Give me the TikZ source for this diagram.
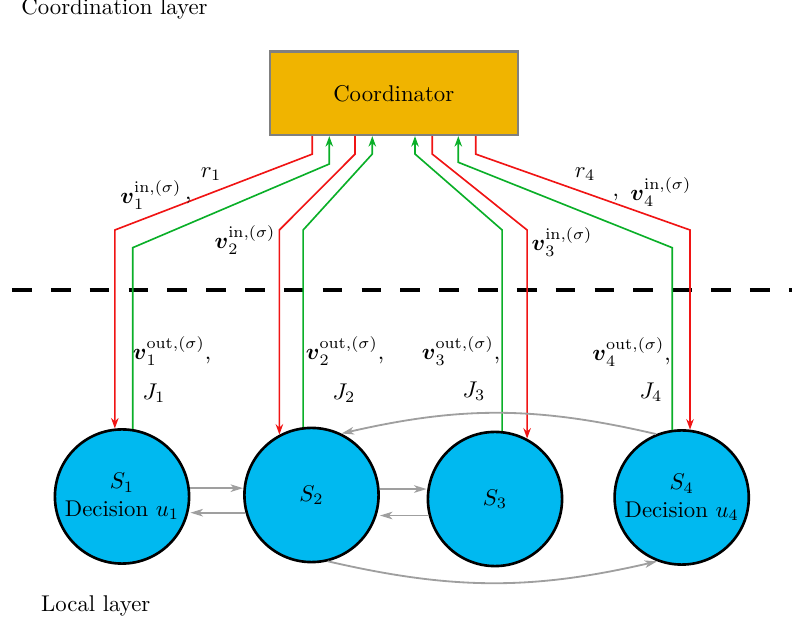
\documentclass[tikz,border=0pt]{standalone}
\usepackage{amssymb,amsmath}
\usepackage{xcolor}
\usepackage{tikz}
\usetikzlibrary{arrows}
\usetikzlibrary{positioning, arrows.meta, calc}

\definecolor{coordorange}{RGB}{240,180,0}
\definecolor{subcyan}{RGB}{0,185,240}
\definecolor{reqred}{RGB}{240,20,20}
\definecolor{repgreen}{RGB}{10,175,40}

\begin{document}
\begin{tikzpicture}[>={Stealth[length=4.6pt, width=3.3pt]}, x=0.439pt, y=-0.439pt,
  subsys/.style={circle, draw, line width=1.15pt, fill=subcyan, minimum size=58.9pt, inner sep=0pt, align=center},
  reqline/.style={reqred, line width=0.72pt, ->},
  repline/.style={repgreen, line width=0.72pt, ->},
  link/.style={gray!75, line width=0.8pt, -{Stealth[length=5.5pt, width=3.3pt, inset=1.5pt]}}]
  \useasboundingbox (0,0) rectangle (792,623);
  \node[draw=gray, line width=0.9pt, fill=coordorange, minimum width=108.7pt, minimum height=36.7pt] (C) at (393.8,93.3) {Coordinator};
  \node[subsys] (S1) at (122,496.5)   {$S_1$\\Decision $u_1$};
  \node[subsys] (S2) at (311.5,495)   {$S_2$};
  \node[subsys] (S3) at (495,499)     {$S_3$};
  \node[subsys] (S4) at (681.7,497.5) {$S_4$\\Decision $u_4$};
  \node[anchor=base west, inner sep=0pt] (toplayer) at (21,15)      {Coordination layer};
  \node[anchor=base west, inner sep=0pt] (botlayer) at (40.7,611.5) {Local layer};
  % layer separator
  \coordinate (sepL) at (12,290);
  \coordinate (sepR) at (792,290);
  \draw[line width=1.55pt, dash pattern=on 8.65pt off 8.4pt] (sepL) -- (sepR);
  % coordinator -> subsystems
  \draw[reqline] (C.south -| 312.3,0) -- ++(0,18) -- (S1.96 |- 0,230) -- (S1.96);
  \draw[reqline] (C.south -| 355,0)   -- ++(0,18) -- (S2.118 |- 0,230) -- (S2.118);
  \draw[reqline] (C.south -| 432.3,0) -- ++(0,18) -- (S3.62 |- 0,230) -- (S3.62);
  \draw[reqline] (C.south -| 475.7,0) -- ++(0,18) -- (S4.83 |- 0,230) -- (S4.83);
  % subsystems -> coordinator
  \draw[repline] (S1.81) -- (S1.81 |- 0,247.7) -- (329.3,164)   -- (C.south -| 329.3,0);
  \draw[repline] (S2.97) -- (S2.97 |- 0,230)   -- (372.3,154)   -- (C.south -| 372.3,0);
  \draw[repline] (S3.84) -- (S3.84 |- 0,230)   -- (415,154)     -- (C.south -| 415,0);
  \draw[repline] (S4.98) -- (S4.98 |- 0,247.7) -- (458.3,162.3) -- (C.south -| 458.3,0);
  % local couplings
  \draw[link] (S1.7)   -- (S1.7 -| S2.west);
  \draw[link] (S2.195) -- (S2.195 -| S1.east);
  \draw[link] (S2.5)   -- (S2.5 -| S3.west);
  \draw[link] (S3.194) -- (S3.194 -| S2.east);
  \draw[link] (S4.112) to[bend right=13] (S2.64);
  \draw[link] (S2.284) to[bend right=13] (S4.249);
  % labels
  \node (r1)    at (211,174) {$r_1$};
  \node (vin1)  at (156,195) {$\boldsymbol{v}_1^{\mathrm{in},(\sigma)}$\,\raisebox{2pt}{,}};
  \node (vin2)  at (245,240) {$\boldsymbol{v}_2^{\mathrm{in},(\sigma)}$};
  \node (vin3)  at (562,242) {$\boldsymbol{v}_3^{\mathrm{in},(\sigma)}$};
  \node (r4)    at (585,174) {$r_4$};
  \node (vin4)  at (652,192) {\raisebox{2pt}{,}\enspace$\boldsymbol{v}_4^{\mathrm{in},(\sigma)}$};
  \node (vout1) at (172,351)   {$\boldsymbol{v}_1^{\mathrm{out},(\sigma)}$,};
  \node (vout2) at (345,351)   {$\boldsymbol{v}_2^{\mathrm{out},(\sigma)}$,};
  \node (vout3) at (461,351)   {$\boldsymbol{v}_3^{\mathrm{out},(\sigma)}$,};
  \node (vout4) at (631.5,352) {$\boldsymbol{v}_4^{\mathrm{out},(\sigma)}$,};
  \node (J1) at (154,393) {$J_1$};
  \node (J2) at (344,393) {$J_2$};
  \node (J3) at (474,391) {$J_3$};
  \node (J4) at (651,392) {$J_4$};
\end{tikzpicture}
\end{document}
